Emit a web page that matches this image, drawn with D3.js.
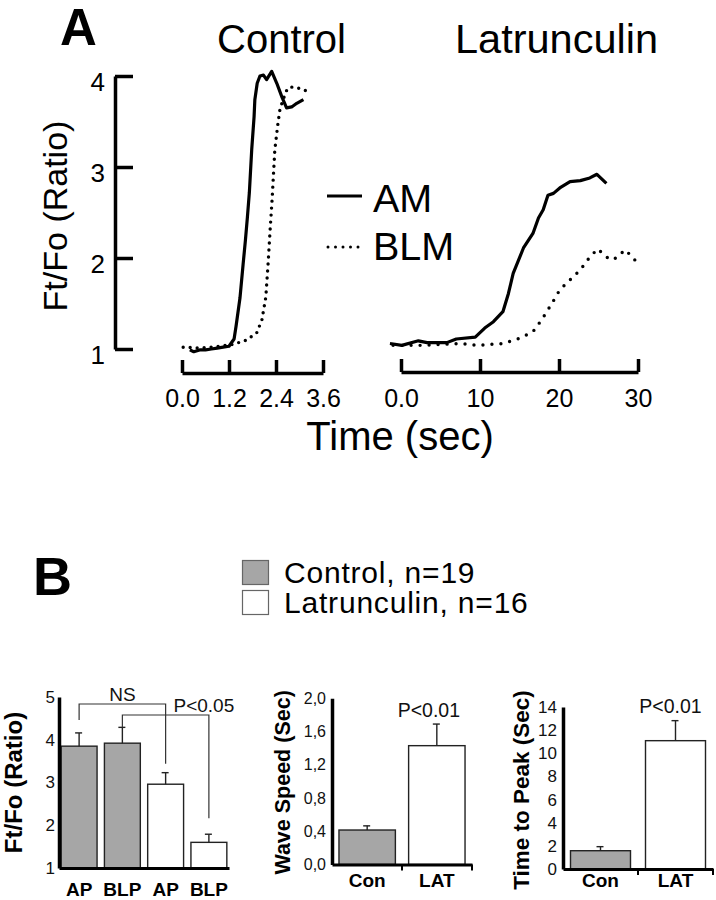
<!DOCTYPE html>
<meta charset="utf-8">
<style>
body { margin: 0; padding: 0; background: #fff; }
svg { font-family: "Liberation Sans", Arial, sans-serif; }
</style>
<svg width="716" height="900"></svg>
<script src="https://d3js.org/d3.v7.min.js"></script>
<script>

var FONT = "Liberation Sans, Arial, sans-serif";

// ---- panel A traces, [time (sec), Ft/Fo] ----
var ctrlAM = [[0.2,0.99],[0.3,0.97],[0.45,0.99],[0.6,0.99],[0.75,1.0],[0.9,1.01],[1.05,1.02],[1.2,1.03],
  [1.33,1.11],[1.38,1.25],[1.48,1.56],[1.56,1.93],[1.62,2.2],[1.67,2.45],[1.72,2.72],[1.78,3.19],[1.84,3.55],
  [1.86,3.74],[1.92,3.92],[1.99,4.0],[2.08,4.01],[2.16,3.96],[2.29,4.05],[2.42,3.92],[2.55,3.77],
  [2.67,3.65],[2.80,3.66],[2.93,3.70],[3.10,3.74]];
var ctrlBLM = [[0.03,1.02],[0.46,1.01],[0.97,1.03],[1.30,1.05],[1.66,1.10],[1.91,1.18],[2.04,1.32],
  [2.14,1.57],[2.20,1.95],[2.25,2.31],[2.30,2.64],[2.37,3.19],[2.45,3.48],[2.50,3.63],[2.58,3.74],
  [2.68,3.85],[2.76,3.88],[2.94,3.87],[3.09,3.85],[3.27,3.82]];
var latAM = [[-1.4,1.06],[0.1,1.04],[2.2,1.09],[3.3,1.07],[5.8,1.07],[7.0,1.11],[9.4,1.13],[10.6,1.23],
  [11.7,1.30],[12.9,1.41],[13.6,1.61],[14.2,1.83],[15.5,2.11],[16.7,2.27],[17.4,2.44],[18.0,2.53],
  [18.6,2.69],[19.3,2.71],[20.1,2.77],[21.4,2.84],[22.7,2.85],[23.9,2.88],[24.8,2.92],[26.0,2.82]];
var latBLM = [[-1.0,1.04],[2.4,1.04],[7.5,1.06],[9.6,1.04],[12.9,1.06],[15.1,1.12],[16.7,1.19],[17.8,1.32],
  [19.1,1.50],[20.1,1.65],[21.4,1.76],[22.7,1.87],[23.9,2.01],[24.9,2.10],[26.0,2.01],[26.9,1.98],
  [28.4,2.09],[29.8,1.96]];
var ratioTicksA = [1, 2, 3, 4];
var ctrlTimeTicks = [0, 1.2, 2.4, 3.6];
var latTimeTicks = [0, 10, 20, 30];

// ---- panel B ----
var legendLabels = ["Control, n=19", "Latrunculin, n=16"];
var ratioCats = ["AP", "BLP", "AP", "BLP"];
var ratioGroups = ["Control", "Control", "Latrunculin", "Latrunculin"];
var ratioMean = [3.85, 3.92, 2.96, 1.60];
var ratioErr = [0.31, 0.37, 0.27, 0.19];
var ratioTicks = [1, 2, 3, 4, 5];
var ratioCompare = [{from: 0, to: 2, label: "NS"}, {from: 1, to: 3, label: "P<0.05"}];

var speedCats = ["Con", "LAT"];
var speedGroups = ["Control", "Latrunculin"];
var speedMean = [0.415, 1.43];
var speedErr = [0.05, 0.26];
var speedTicks = [0, 0.4, 0.8, 1.2, 1.6, 2.0];

var peakCats = ["Con", "LAT"];
var peakGroups = ["Control", "Latrunculin"];
var peakMean = [1.58, 11.09];
var peakErr = [0.35, 1.73];
var peakTicks = [0, 2, 4, 6, 8, 10, 12, 14];

var fill = d3.scaleOrdinal().domain(["Control", "Latrunculin"]).range(["#a6a6a6", "#ffffff"]);

var svg = d3.select("svg");

// ================= panel A =================
var yA = d3.scaleLinear().domain([1, 4]).range([349, 76]);
var xCtrl = d3.scaleLinear().domain([0, 3.6]).range([182, 323]);
var xLat = d3.scaleLinear().domain([0, 30]).range([401, 638]);

svg.append("text").attr("x", 60).attr("y", 45)
    .attr("font-size", 51).attr("font-weight", "bold").text("A");
svg.append("text").attr("x", 217).attr("y", 53).attr("font-size", 40).text("Control");
svg.append("text").attr("x", 455).attr("y", 53).attr("font-size", 41.5).text("Latrunculin");

var gyA = svg.append("g")
    .attr("transform", "translate(115,0)")
    .call(d3.axisLeft(yA).tickValues(ratioTicksA).tickSizeInner(-18).tickSizeOuter(0)
      .tickPadding(10).tickFormat(d3.format("d")))
    .attr("font-family", FONT).attr("font-size", 26);
gyA.selectAll("path, line").attr("stroke-width", 3.5);
gyA.selectAll("text").attr("dy", "0.55em");

svg.append("text")
    .attr("transform", "translate(67,216) rotate(-90)")
    .attr("text-anchor", "middle").attr("font-size", 34)
    .text("Ft/Fo (Ratio)");

var gxC = svg.append("g")
    .attr("transform", "translate(0,373)")
    .call(d3.axisBottom(xCtrl).tickValues(ctrlTimeTicks).tickSizeInner(-13).tickSizeOuter(0)
      .tickPadding(16).tickFormat(d3.format(".1f")))
    .attr("font-family", FONT).attr("font-size", 25);
gxC.selectAll("path, line").attr("stroke-width", 3.5);

var gxL = svg.append("g")
    .attr("transform", "translate(0,372)")
    .call(d3.axisBottom(xLat).tickValues(latTimeTicks).tickSizeInner(-13).tickSizeOuter(0)
      .tickPadding(17).tickFormat(function(d) { return d === 0 ? "0.0" : d; }))
    .attr("font-family", FONT).attr("font-size", 25);
gxL.selectAll("path, line").attr("stroke-width", 3.5);

svg.append("text").attr("x", 400).attr("y", 450)
    .attr("text-anchor", "middle").attr("font-size", 40).text("Time (sec)");

function trace(data, x, dotted, gap) {
  var line = d3.line().x(function(d) { return x(d[0]); }).y(function(d) { return yA(d[1]); });
  var p = svg.append("path").datum(data).attr("d", line)
      .attr("fill", "none").attr("stroke", "#000");
  if (dotted) {
    p.attr("stroke-width", 3.4).attr("stroke-dasharray", "0," + gap).attr("stroke-linecap", "round");
  } else {
    p.attr("stroke-width", 3.2).attr("stroke-linejoin", "round");
  }
}
trace(ctrlBLM, xCtrl, true, 7);
trace(ctrlAM, xCtrl, false);
trace(latBLM, xLat, true, 9);
trace(latAM, xLat, false);

// legend A
svg.append("line").attr("x1", 327).attr("x2", 362).attr("y1", 196).attr("y2", 196)
    .attr("stroke", "#000").attr("stroke-width", 3);
svg.append("line").attr("x1", 328).attr("x2", 360).attr("y1", 247).attr("y2", 247)
    .attr("stroke", "#000").attr("stroke-width", 3).attr("stroke-dasharray", "0,7.5")
    .attr("stroke-linecap", "round");
svg.append("text").attr("x", 373).attr("y", 212).attr("font-size", 39.5).text("AM");
svg.append("text").attr("x", 373).attr("y", 260).attr("font-size", 39.5).text("BLM");

// ================= panel B =================
svg.append("text").attr("x", 33).attr("y", 595)
    .attr("font-size", 54).attr("font-weight", "bold").text("B");

var legend = svg.append("g").selectAll("g")
    .data(legendLabels)
    .join("g")
      .attr("transform", function(d, i) { return "translate(0," + i * 30 + ")"; });
legend.append("rect")
    .attr("x", 242.5).attr("y", 560.5).attr("width", 26).attr("height", 24)
    .attr("fill", function(d, i) { return fill.range()[i]; })
    .attr("stroke", "#666").attr("stroke-width", 1.2);
legend.append("text")
    .attr("x", 284).attr("y", 583).attr("font-size", 30).attr("letter-spacing", 0.8)
    .text(function(d) { return d; });

function barPanel(o) {
  var g = svg.append("g");
  var x = d3.scaleBand().domain(d3.range(o.cats.length)).range(o.xr)
      .paddingInner(o.pin).paddingOuter(o.pout);
  var y = d3.scaleLinear().domain(o.dom).range(o.yr);
  var rows = o.mean.map(function(m, i) { return {i: i, m: m, e: o.err[i], grp: o.groups[i]}; });

  g.selectAll("rect").data(rows).join("rect")
      .attr("x", function(d) { return x(d.i); })
      .attr("width", x.bandwidth())
      .attr("y", function(d) { return y(d.m); })
      .attr("height", function(d) { return y(o.dom[0]) - y(d.m); })
      .attr("fill", function(d) { return fill(d.grp); })
      .attr("stroke", "#222").attr("stroke-width", 1.4);

  var eb = g.selectAll("g.err").data(rows).join("g").attr("class", "err");
  eb.append("line")
      .attr("x1", function(d) { return x(d.i) + x.bandwidth() / 2; })
      .attr("x2", function(d) { return x(d.i) + x.bandwidth() / 2; })
      .attr("y1", function(d) { return y(d.m); })
      .attr("y2", function(d) { return y(d.m + d.e); })
      .attr("stroke", "#222").attr("stroke-width", 1.4);
  eb.append("line")
      .attr("x1", function(d) { return x(d.i) + x.bandwidth() / 2 - 4; })
      .attr("x2", function(d) { return x(d.i) + x.bandwidth() / 2 + 3; })
      .attr("y1", function(d) { return y(d.m + d.e); })
      .attr("y2", function(d) { return y(d.m + d.e); })
      .attr("stroke", "#222").attr("stroke-width", 1.4);

  var gy = g.append("g")
      .attr("transform", "translate(" + o.xr[0] + ",0)")
      .call(d3.axisLeft(y).tickValues(o.ticks).tickSize(0).tickPadding(o.tpad).tickFormat(o.fmt))
      .attr("font-family", FONT).attr("font-size", o.tickFont);
  gy.select(".domain").attr("stroke-width", 3.5);
  gy.selectAll("text").attr("fill", "#111");

  var gx = g.append("g")
      .attr("transform", "translate(0," + o.yr[0] + ")")
      .call(d3.axisBottom(x).tickSize(0).tickPadding(o.cpad)
        .tickFormat(function(i) { return o.cats[i]; }))
      .attr("font-family", FONT).attr("font-size", 19).attr("font-weight", "bold");
  gx.select(".domain").attr("stroke-width", 3);

  if (o.sepTicks) {
    var seps = [x(1) - x.step() * o.pin / 2, o.xr[1]];
    g.selectAll("line.sep").data(seps).join("line").attr("class", "sep")
        .attr("x1", function(d) { return d; }).attr("x2", function(d) { return d; })
        .attr("y1", o.yr[0]).attr("y2", o.yr[0] + 6)
        .attr("stroke", "#000").attr("stroke-width", 2);
  }

  g.append("text")
      .attr("transform", "translate(" + o.labelX + "," + ((o.yr[0] + o.yr[1]) / 2 + o.labelDy) + ") rotate(-90)")
      .attr("text-anchor", "middle").attr("font-size", o.labelFont).attr("font-weight", "bold")
      .text(o.label);

  return {g: g, x: x, y: y, rows: rows};
}

// Ft/Fo bars
var p1 = barPanel({
  cats: ratioCats, groups: ratioGroups, mean: ratioMean, err: ratioErr,
  xr: [59, 229], pin: 0.17, pout: 0.05, dom: [1, 5], yr: [868, 697],
  ticks: ratioTicks, fmt: d3.format("d"), tickFont: 17, tpad: 4, cpad: 15,
  label: "Ft/Fo (Ratio)", labelX: 22, labelDy: 0, labelFont: 24
});

// comparison brackets: horizontal level and gap above each error bar end
var bracketLevel = [704, 715];
var bracketGap = [[13, 9], [0, 16]];
ratioCompare.forEach(function(c, k) {
  var xa = p1.x(c.from) + p1.x.bandwidth() / 2,
      xb = p1.x(c.to) + p1.x.bandwidth() / 2,
      ya = p1.y(ratioMean[c.from] + ratioErr[c.from]) - bracketGap[k][0],
      yb = p1.y(ratioMean[c.to] + ratioErr[c.to]) - bracketGap[k][1],
      h = bracketLevel[k];
  p1.g.append("path")
      .attr("d", "M" + xa + "," + ya + "V" + h + "H" + xb + "V" + yb)
      .attr("fill", "none").attr("stroke", "#333").attr("stroke-width", 1.2);
  p1.g.append("text")
      .attr("x", k === 0 ? (xa + xb) / 2 : xb - 5)
      .attr("y", h - 3)
      .attr("text-anchor", "middle").attr("font-size", 19).attr("fill", "#111")
      .text(c.label);
});

// wave speed
var commaFmt = d3.formatLocale({decimal: ",", thousands: ".", grouping: [3], currency: ["", ""]}).format(".1f");
var p2 = barPanel({
  cats: speedCats, groups: speedGroups, mean: speedMean, err: speedErr,
  xr: [332, 472], pin: 0.19, pout: 0.1, dom: [0, 2], yr: [864.5, 698.3],
  ticks: speedTicks, fmt: commaFmt, tickFont: 16, tpad: 6, cpad: 9, sepTicks: true,
  label: "Wave Speed (Sec)", labelX: 290, labelDy: 1, labelFont: 21.5
});
p2.g.append("text")
    .attr("x", p2.x(1) + p2.x.bandwidth() / 2 - 8)
    .attr("y", p2.y(speedMean[1] + speedErr[1]) - 7)
    .attr("text-anchor", "middle").attr("font-size", 19.5).attr("fill", "#111").text("P<0.01");

// time to peak
var p3 = barPanel({
  cats: peakCats, groups: peakGroups, mean: peakMean, err: peakErr,
  xr: [563, 713], pin: 0.2, pout: 0.1, dom: [0, 14], yr: [869, 707],
  ticks: peakTicks, fmt: d3.format("d"), tickFont: 17, tpad: 6, cpad: 5, sepTicks: true,
  label: "Time to Peak (Sec)", labelX: 529, labelDy: 2, labelFont: 22.5
});
p3.g.append("text")
    .attr("x", p3.x(1) + p3.x.bandwidth() / 2 - 5)
    .attr("y", p3.y(peakMean[1] + peakErr[1]) - 8)
    .attr("text-anchor", "middle").attr("font-size", 19.5).attr("fill", "#111").text("P<0.01");

</script>
